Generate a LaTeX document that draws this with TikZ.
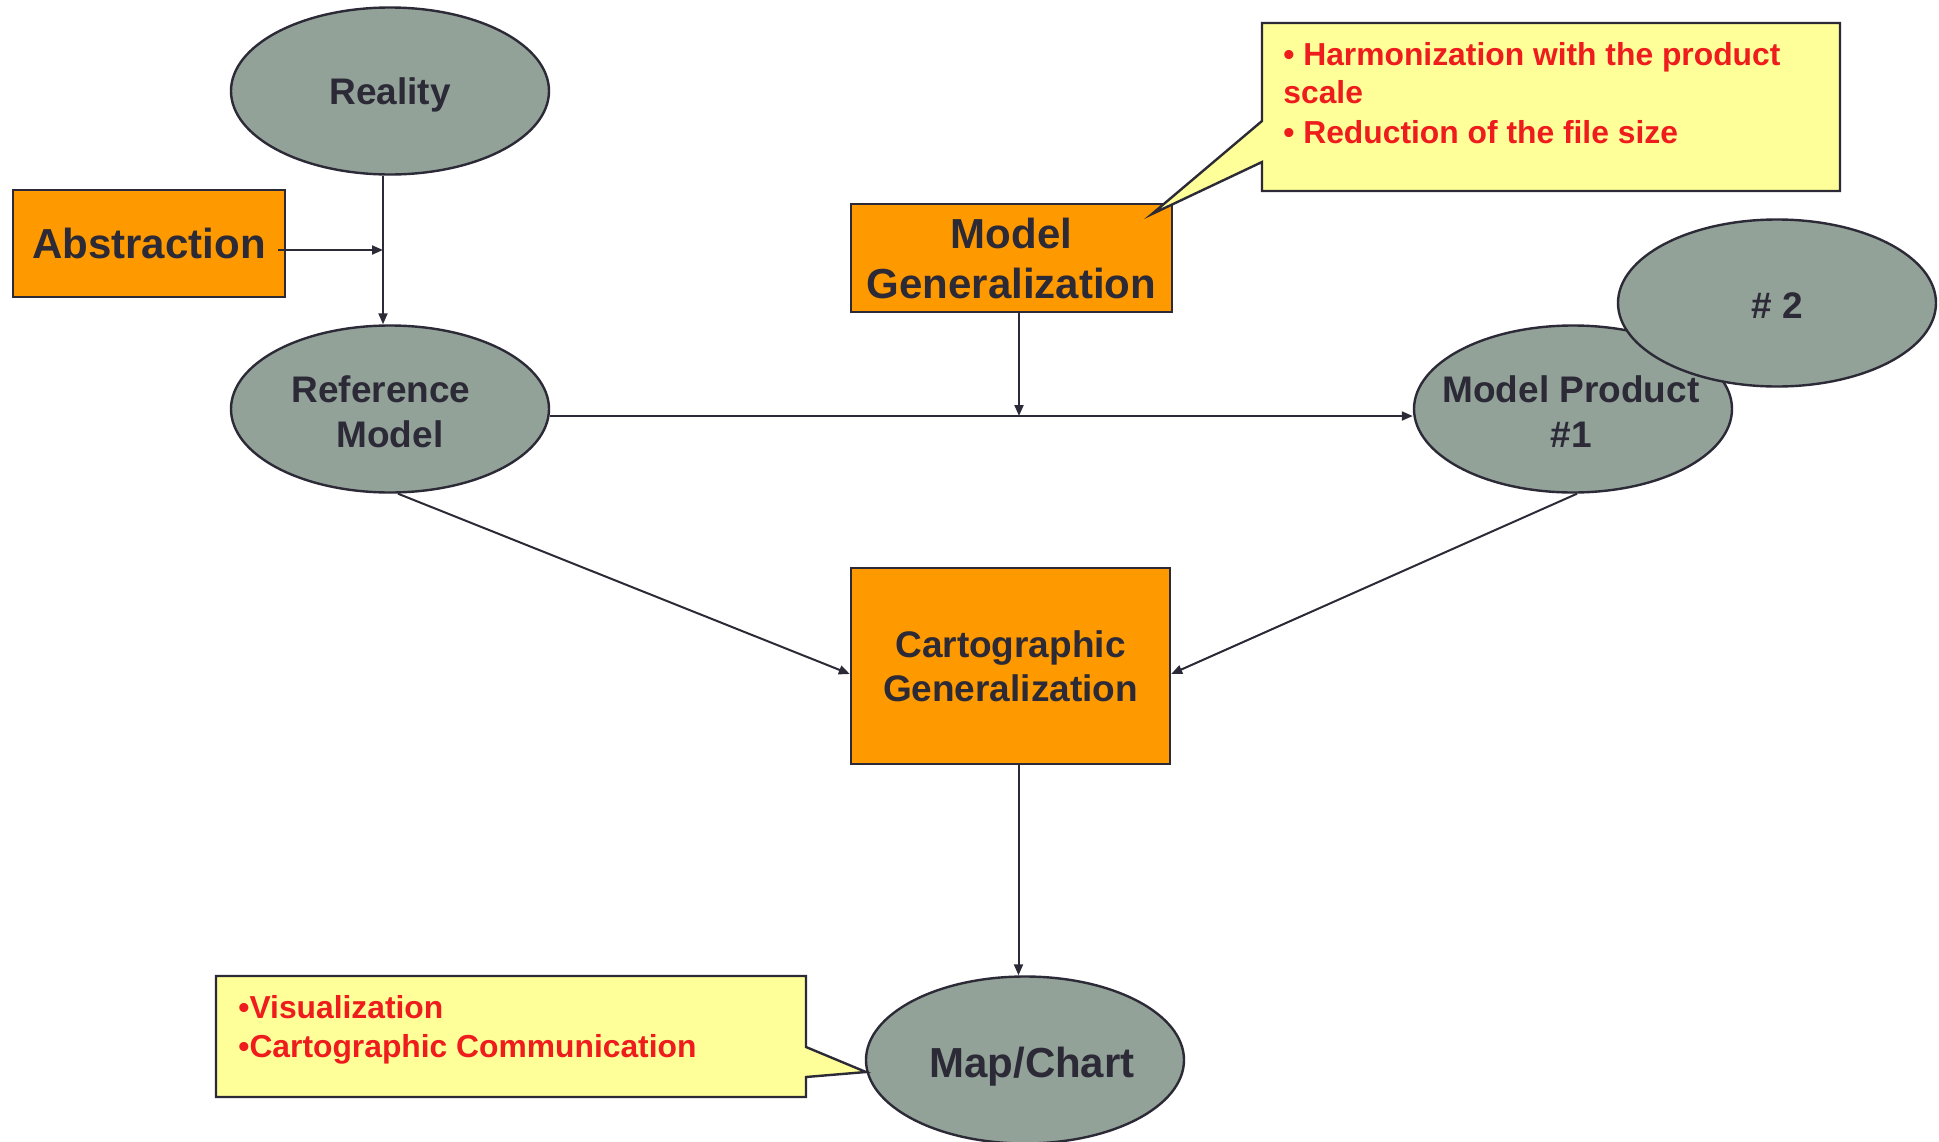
\documentclass[tikz,border=0pt]{standalone}
\usepackage{fontspec}
\setmainfont{Liberation Sans}
\usetikzlibrary{shapes.geometric,arrows.meta,calc}
\definecolor{ink}{RGB}{43,42,54}
\definecolor{ellfill}{RGB}{147,162,152}
\definecolor{orng}{RGB}{255,153,0}
\definecolor{ylw}{RGB}{255,255,153}
\definecolor{redtxt}{RGB}{238,28,28}
\begin{document}
\begin{tikzpicture}[x=0.5pt,y=-0.5pt,
  ell/.style={ellipse,draw=ink,line width=1.2pt,fill=ellfill,minimum width=159pt,minimum height=83.5pt,inner sep=0pt},
  box/.style={rectangle,draw=ink,line width=1.2pt,fill=orng,inner sep=0pt,text=ink,align=center},
  lbl/.style={text=ink,font=\bfseries\fontsize{18.5pt}{22.5pt}\selectfont,align=center,inner sep=0pt},
  big/.style={text=ink,font=\bfseries\fontsize{21pt}{25pt}\selectfont,align=center,inner sep=0pt},
  note/.style={text=redtxt,font=\bfseries\fontsize{15.9pt}{19.5pt}\selectfont,anchor=base west,inner sep=0pt},
  conn/.style={draw=ink,line width=1pt},
  arr/.style={conn,-{Triangle[length=5.5pt,width=4.5pt]}},
  callout/.style={draw=ink,line width=1.2pt,fill=ylw}]
\useasboundingbox (0,0) rectangle (1939,1141);

% ellipses
\node[ell] (real) at (390,91) {};
\node[lbl] (realT) at ($(real)+(0,4)$) {Reality};
\node[ell] (ref) at (390,409) {};
\node[lbl] (refT) at ($(ref)+(0,3)$) {Reference\hspace*{9pt}\\Model};
\node[ell] (mp) at (1573,409) {};
\node[lbl] (mpT) at ($(mp)+(-2,3)$) {Model Product\\\#1};
\node[ell] (two) at (1777,303) {};
\node[lbl] (twoT) at ($(two)+(0,3)$) {\# 2};
\node[ell] (map) at (1025,1060) {};
\node[big] (mapT) at ($(map)+(7,7)$) {Map/Chart};

% boxes
\node[box,minimum width=136.2pt,minimum height=53.5pt,font=\bfseries\fontsize{21pt}{25pt}\selectfont] (abs) at (149,243.5) {Abstraction};
\node[box,minimum width=160.5pt,minimum height=54pt,font=\bfseries\fontsize{21pt}{25pt}\selectfont] (mg) at (1011.5,258) {\raisebox{-1.5pt}{Model}\\\raisebox{-1.5pt}{Generalization}};
\node[box,minimum width=159.5pt,minimum height=98pt,font=\bfseries\fontsize{18.5pt}{22pt}\selectfont] (cg) at (1010.5,666) {Cartographic\\Generalization};

% connectors
\coordinate (j1) at (383,250);
\coordinate (j2) at (1019,416);
\draw[arr] (real.south -| j1) -- (ref.north -| j1);
\draw[arr] ($(abs.east |- j1)+(-8,0)$) -- (j1);
\draw[arr] (ref.east |- j2) -- (mp.west |- j2);
\draw[arr] (mg.south -| j2) -- (j2);
\draw[arr] ($(ref.south)+(8,0)$) -- ($(cg.west)+(0,8)$);
\draw[arr] ($(mp.south)+(4,0)$) -- ($(cg.east)+(0,8)$);
\coordinate (cgout) at ($(cg.south)+(8,0)$);
\draw[arr] (cgout) -- (cgout |- map.north);

% callouts
\draw[callout] (1262,23) -- (1840,23) -- (1840,191) -- (1262,191) -- (1262,162) -- (1152,214) -- (1262,121) -- cycle;
\node[note] (n1) at (1283,65) {• Harmonization with the product};
\node[note] (n2) at (1283,103) {scale};
\node[note] (n3) at (1283,143) {• Reduction of the file size};

\draw[callout] (216,976) -- (806,976) -- (806,1047) -- (866,1072) -- (806,1077) -- (806,1097) -- (216,1097) -- cycle;
\node[note] (n4) at (238,1018) {•Visualization};
\node[note] (n5) at (238,1057) {•Cartographic Communication};
\end{tikzpicture}
\end{document}
